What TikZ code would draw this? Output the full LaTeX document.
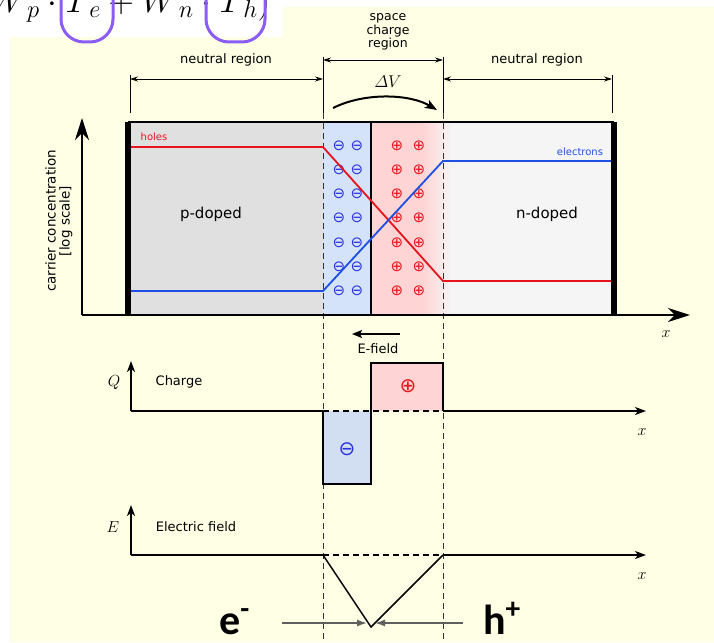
\RequirePackage{fix-cm}
\documentclass[tikz,border=0pt]{standalone}
\usepackage{amsmath}
\usepackage{fontspec}
\setsansfont{DejaVu Sans}
\newfontfamily\symbfont{DejaVu Sans}
\newfontfamily\calibfont{Carlito}
\usepackage{tikz}
\usetikzlibrary{arrows.meta, positioning}

\definecolor{bgyellow}{RGB}{255,255,229}
\definecolor{pgray}{RGB}{224,224,224}
\definecolor{ngray}{RGB}{245,245,245}
\definecolor{scrblue}{RGB}{212,226,250}
\definecolor{scrred}{RGB}{255,212,212}
\definecolor{qblue}{RGB}{210,222,242}
\definecolor{holered}{RGB}{232,20,28}
\definecolor{elecblue}{RGB}{30,80,230}
\definecolor{chgblue}{RGB}{40,50,225}
\definecolor{markpurple}{RGB}{139,92,246}
\definecolor{sepgray}{RGB}{50,50,50}
\definecolor{arrgray}{RGB}{95,95,95}

\begin{document}
\begin{tikzpicture}[x=1pt, y=-1pt,
  lbl/.style={font=\sffamily\fontsize{13}{14}\selectfont},
  small/.style={font=\sffamily\fontsize{10}{12}\selectfont},
  mathlbl/.style={font=\fontsize{16}{18}\selectfont},
  negchg/.style={chgblue, inner sep=0pt, font=\symbfont\fontsize{15}{16}\selectfont},
  poschg/.style={holered, inner sep=0pt, font=\symbfont\fontsize{15}{16}\selectfont},
  dimarrow/.style={line width=0.8pt, {Stealth[length=8pt,width=5pt]}-{Stealth[length=8pt,width=5pt]}},
  sepline/.style={sepgray, line width=0.9pt, dash pattern=on 6pt off 4pt},
  bigaxis/.style={line width=2.2pt, -{Stealth[length=22pt,width=14pt,inset=7pt]}},
  axis/.style={line width=1.6pt, -{Stealth[length=11pt,width=8pt,inset=3pt]}},
  carrier/.style={line width=1.8pt}]
  \useasboundingbox (0,0) rectangle (714,642);
  \clip (0,0) rectangle (714,642);

  % background
  \fill[white] (0,0) rectangle (714,642);
  \fill[bgyellow] (10,37) -- (283,37) -- (283,7) -- (714,7) -- (714,642) -- (10,642) -- cycle;

  % formula cut at the top
  \node[anchor=base west, inner sep=0pt, font=\fontsize{35}{40}\selectfont] (formula) at (-22.6,12.5)
    {$(W_{\kern4.9pt p}\cdot T_{\kern4.2pt e}+W_{\kern4.9pt n}\cdot T_{\kern4.2pt h})$};
  \draw[markpurple, line width=3pt, rounded corners=23pt] (61,-10) -- (61,42) -- (113,42) -- (113,-10);
  \draw[markpurple, line width=3pt, rounded corners=23pt] (206,-10) -- (206,42) -- (265,42) -- (265,-10);

  % region widths
  \draw[line width=0.8pt] (130,75) -- (130,113);
  \draw[line width=0.8pt] (323,57) -- (323,113);
  \draw[line width=0.8pt] (443,57) -- (443,113);
  \draw[line width=0.8pt] (612,75) -- (612,113);
  \draw[dimarrow] (130,79) -- (323,79);
  \draw[dimarrow] (323,60) -- (443,60);
  \draw[dimarrow] (443,79) -- (612,79);
  \node[lbl] (nleft) at (226,60) {neutral region};
  \node[lbl, align=center, font=\sffamily\fontsize{12.5}{13.5}\selectfont] (scr) at (388,32) {space\\charge\\region};
  \node[lbl] (nright) at (537,60) {neutral region};
  \node[font=\fontsize{17}{20}\selectfont] (dv) at (388,82) {$\varDelta V$};
  \draw[line width=2pt, -{Stealth[length=12pt,width=9pt,inset=3pt]}] (333,108) .. controls (365,92) and (410,94) .. (437,110);

  % semiconductor box
  \fill[pgray] (131,122) rectangle (323,314);
  \fill[scrblue] (323,122) rectangle (371,314);
  \fill[scrred] (371,122) rectangle (422,314);
  \shade[left color=scrred, right color=ngray] (422,122) rectangle (452,314);
  \fill[ngray] (452,122) rectangle (611,314);
  \draw[line width=1.5pt] (128,122) -- (614,122);
  \fill[black] (125,122) rectangle (131,314);
  \fill[black] (611,122) rectangle (617,314);
  \draw[line width=1.5pt] (371,122) -- (371,314);

  % junction edges
  \draw[sepline] (323,113) -- (323,642);
  \draw[sepline] (443,113) -- (443,642);

  % fixed charges
  \foreach \y in {146,170,194,218,243,267,291} {
    \node[negchg] (nega\y) at (339,\y) {⊖};
    \node[negchg] (negb\y) at (357,\y) {⊖};
    \node[poschg] (posa\y) at (397,\y) {⊕};
    \node[poschg] (posb\y) at (419,\y) {⊕};
  }

  % carrier concentrations
  \draw[carrier, holered] (131,147) -- (323,147) -- (443,281) -- (611,281);
  \draw[carrier, elecblue] (131,291) -- (323,291) -- (443,161) -- (611,161);
  \node[small, holered] (holes) at (154,137) {holes};
  \node[small, elecblue] (electrons) at (580,152) {electrons};
  \node[font=\sffamily\fontsize{15}{18}\selectfont] (pdoped) at (211,214) {p-doped};
  \node[font=\sffamily\fontsize{15}{18}\selectfont] (ndoped) at (547,214) {n-doped};

  % main axes
  \draw[bigaxis] (82,315) -- (82,118);
  \draw[bigaxis] (82,315) -- (690,315);
  \node[lbl, rotate=90, align=center, font=\sffamily\fontsize{13.5}{14}\selectfont] (ylab) at (59,221)
    {carrier concentration\\{[log scale]}};
  \node[mathlbl] (xmain) at (666,334) {$x$};

  % field direction
  \coordinate (ef0) at (400,334);
  \coordinate (ef1) at (352,334);
  \draw[line width=1.8pt, -{Stealth[length=10pt,width=8pt,inset=2pt]}] (ef0) -- (ef1);
  \node[lbl] (efield) at (378,349) {E-field};

  % charge plot
  \fill[scrred] (371,363) rectangle (443,411);
  \fill[qblue] (323,411) rectangle (371,484);
  \draw[line width=1.5pt] (323,411) -- (323,484) -- (371,484) -- (371,363) -- (443,363) -- (443,411);
  \draw[line width=1.6pt, dash pattern=on 6pt off 4pt] (323,411) -- (443,411);
  \draw[axis] (131,411) -- (131,361);
  \draw[line width=1.6pt] (131,411) -- (323,411);
  \draw[axis] (443,411) -- (646,411);
  \node[mathlbl] (qlab) at (114,383) {$Q$};
  \node[lbl] (charge) at (179,382) {Charge};
  \node[mathlbl] (xq) at (642,432) {$x$};
  \node[poschg, font=\symbfont\fontsize{20}{21}\selectfont] (qpos) at (408,386) {⊕};
  \node[negchg, font=\symbfont\fontsize{20}{21}\selectfont] (qneg) at (347,449) {⊖};

  % field plot
  \draw[axis] (131,555) -- (131,505);
  \draw[line width=1.6pt] (131,555) -- (323,555);
  \draw[line width=1.6pt, dash pattern=on 6pt off 4pt] (323,555) -- (443,555);
  \draw[axis] (443,555) -- (646,555);
  \draw[line width=1.5pt] (323,555) -- (371,627) -- (443,555);
  \node[mathlbl] (elab) at (113,527) {$E$};
  \node[lbl] (efieldlbl) at (196,527) {Electric field};
  \node[mathlbl] (xe) at (642,576) {$x$};

  % drift of carriers
  \node[anchor=base west, inner sep=0pt, font=\calibfont\bfseries\fontsize{42}{46}\selectfont] (eminus) at (219,634) {e\textsuperscript{-}};
  \node[anchor=base west, inner sep=0pt, font=\calibfont\bfseries\fontsize{42}{46}\selectfont] (hplus) at (483,634) {h\textsuperscript{+}};
  \coordinate (estart) at (282,623);
  \coordinate (etip) at (367,623);
  \coordinate (hstart) at (463,623);
  \coordinate (htip) at (375,623);
  \draw[arrgray, line width=1.5pt, -{Latex[length=10pt,width=7pt]}] (estart) -- (etip);
  \draw[arrgray, line width=1.5pt, -{Latex[length=10pt,width=7pt]}] (hstart) -- (htip);
\end{tikzpicture}
\end{document}
